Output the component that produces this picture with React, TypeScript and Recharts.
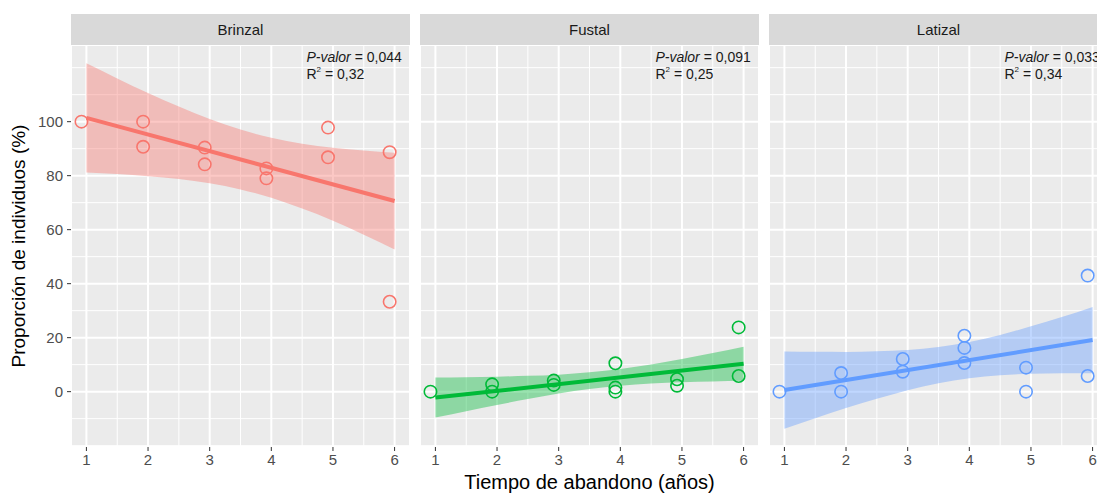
import React from 'react';
import {
  ComposedChart, XAxis, YAxis, CartesianGrid, Scatter, Line, Area,
} from 'recharts';

// ---- data ----
const panelNames = ['Brinzal', 'Fustal', 'Latizal'];
const panelColors = ['#F8766D', '#00BA38', '#619CFF'];
const pValues = ['0,044', '0,091', '0,033'];
const r2Values = ['0,32', '0,25', '0,34'];

const xTicks = [1, 2, 3, 4, 5, 6];
const yTicks = [0, 20, 40, 60, 80, 100];
const xMinor = [1.5, 2.5, 3.5, 4.5, 5.5];
const yMinor = [-20, -10, 10, 30, 50, 70, 90, 110, 120];

const brinzalPointX = [0.92, 1.92, 1.92, 2.92, 2.92, 3.92, 3.92, 4.92, 4.92, 5.92, 5.92];
const brinzalPointY = [100, 100, 90.7, 90.4, 84.2, 82.7, 79.0, 97.8, 86.8, 88.7, 33.3];
const fustalPointX = [0.92, 1.92, 1.92, 2.92, 2.92, 3.92, 3.92, 3.92, 4.92, 4.92, 5.92, 5.92];
const fustalPointY = [0, 2.7, 0, 4.1, 2.5, 10.5, 1.5, 0, 4.6, 2.2, 23.8, 5.8];
const latizalPointX = [0.92, 1.92, 1.92, 2.92, 2.92, 3.92, 3.92, 3.92, 4.92, 4.92, 5.92, 5.92];
const latizalPointY = [0, 6.9, 0, 12.1, 7.4, 20.7, 16.2, 10.6, 8.9, 0, 43.0, 5.8];

const fitX = [1, 6];
const brinzalFit = [101.4, 70.6];
const fustalFit = [-2.2, 10.3];
const latizalFit = [0.6, 19.1];

const bandX = [1, 1.5, 2, 2.5, 3, 3.5, 4, 4.5, 5, 5.5, 6];
const brinzalLow = [81.2, 80.6, 79.8, 78.8, 77.2, 74.9, 71.8, 67.8, 63.3, 58.1, 52.7];
const brinzalHigh = [121.6, 116.0, 110.6, 105.6, 101.0, 97.1, 94.0, 91.8, 90.3, 89.3, 88.5];
const fustalLow = [-9.6, -7.25, -4.95, -2.75, -0.7, 0.95, 2.2, 3.05, 3.5, 3.8, 4.0];
const fustalHigh = [5.2, 5.35, 5.55, 5.85, 6.3, 7.15, 8.4, 10.05, 12.1, 14.3, 16.6];
const latizalLow = [-13.7, -9.85, -6.1, -2.65, 0.55, 3.15, 5.0, 6.1, 6.6, 6.85, 6.8];
const latizalHigh = [14.9, 14.75, 14.7, 14.95, 15.45, 16.55, 18.4, 21.0, 24.2, 27.65, 31.4];

const labelX = 4.57;
const labelY = 124;

// ---- build series ----
const pointXs = [brinzalPointX, fustalPointX, latizalPointX];
const pointYs = [brinzalPointY, fustalPointY, latizalPointY];
const fits = [brinzalFit, fustalFit, latizalFit];
const lows = [brinzalLow, fustalLow, latizalLow];
const highs = [brinzalHigh, fustalHigh, latizalHigh];

const FONT = '"Liberation Sans", Arial, Helvetica, sans-serif';

const PANEL_W = 339;
const PLOT_TOP = 45;
const PLOT_H = 402;
const XAXIS_H = 30;
const YAXIS_W = 71;
const panelLefts = [71, 420, 769];

function Panel({ idx }: { idx: number }) {
  const color = panelColors[idx];
  const points = pointXs[idx].map((x, i) => ({ x, y: pointYs[idx][i] }));
  const fit = fitX.map((x, i) => ({ x, y: fits[idx][i] }));
  const band = bandX.map((x, i) => ({ x, band: [lows[idx][i], highs[idx][i]] }));
  const label = [{ x: labelX, y: labelY }];
  const first = idx === 0;
  const width = PANEL_W + (first ? YAXIS_W : 0);
  const left = panelLefts[idx] - (first ? YAXIS_W : 0);

  const circle = (p: any) => (
    <circle cx={p.cx} cy={p.cy} r={6.2} fill="none" stroke={color} strokeWidth={1.6} />
  );
  const annot = (p: any) => (
    <text x={p.cx} y={p.cy} fontFamily={FONT} fontSize={14} fill="#1A1A1A">
      <tspan x={p.cx} y={p.cy + 5}>
        <tspan fontStyle="italic">P-valor</tspan> = {pValues[idx]}
      </tspan>
      <tspan x={p.cx} y={p.cy + 22}>R</tspan>
      <tspan fontSize={8} dy={-7}>2</tspan>
      <tspan dy={7}> = {r2Values[idx]}</tspan>
    </text>
  );

  return (
    <div style={{ position: 'absolute', left, top: PLOT_TOP }}>
      <ComposedChart
        width={width}
        height={PLOT_H + XAXIS_H}
        margin={{ top: 0, right: 0, bottom: 0, left: 0 }}
      >
        <CartesianGrid fill="#EBEBEB" stroke="#FFFFFF" strokeWidth={2} />
        <CartesianGrid
          stroke="#FFFFFF"
          strokeWidth={1}
          horizontalValues={yMinor}
          verticalValues={xMinor}
        />
        <XAxis
          type="number"
          dataKey="x"
          domain={[0.75, 6.25]}
          ticks={xTicks}
          allowDataOverflow
          height={XAXIS_H}
          axisLine={false}
          tickSize={4}
          tickMargin={3}
          tickLine={{ stroke: '#333333', strokeWidth: 1 }}
          tick={{ fill: '#4D4D4D', fontSize: 15, fontFamily: FONT }}
          interval={0}
        />
        <YAxis
          type="number"
          dataKey="y"
          domain={[-20.5, 128.4]}
          ticks={yTicks}
          allowDataOverflow
          hide={!first}
          width={YAXIS_W}
          axisLine={false}
          tickSize={4}
          tickMargin={4}
          tickLine={{ stroke: '#333333', strokeWidth: 1 }}
          tick={{ fill: '#4D4D4D', fontSize: 15, fontFamily: FONT }}
          interval={0}
        />
        <Area
          data={band}
          dataKey="band"
          type="monotone"
          stroke="none"
          fill={color}
          fillOpacity={0.4}
          isAnimationActive={false}
          dot={false}
          activeDot={false}
        />
        <Line
          data={fit}
          dataKey="y"
          type="linear"
          stroke={color}
          strokeWidth={4}
          dot={false}
          activeDot={false}
          isAnimationActive={false}
        />
        <Scatter data={points} dataKey="y" shape={circle} isAnimationActive={false} />
        <Scatter data={label} dataKey="y" shape={annot} isAnimationActive={false} />
      </ComposedChart>
    </div>
  );
}

export default function App() {
  return (
    <div
      style={{
        position: 'absolute',
        left: 0,
        top: 0,
        width: 1097,
        height: 494,
        overflow: 'hidden',
        background: '#FFFFFF',
        fontFamily: FONT,
      }}
    >
      {panelNames.map((name, i) => (
        <div
          key={name}
          style={{
            position: 'absolute',
            left: panelLefts[i],
            top: 14,
            width: PANEL_W,
            height: 31,
            background: '#D9D9D9',
            color: '#1A1A1A',
            fontSize: 15,
            lineHeight: '31px',
            textAlign: 'center',
          }}
        >
          {name}
        </div>
      ))}
      {panelNames.map((name, i) => (
        <Panel key={name} idx={i} />
      ))}
      <div
        style={{
          position: 'absolute',
          left: 589.5,
          top: 482,
          transform: 'translate(-50%, -50%)',
          whiteSpace: 'nowrap',
          fontSize: 20,
          color: '#000000',
        }}
      >
        Tiempo de abandono (años)
      </div>
      <div
        style={{
          position: 'absolute',
          left: 19,
          top: 246,
          transform: 'translate(-50%, -50%) rotate(-90deg)',
          whiteSpace: 'nowrap',
          fontSize: 19,
          color: '#000000',
        }}
      >
        Proporción de individuos (%)
      </div>
    </div>
  );
}
